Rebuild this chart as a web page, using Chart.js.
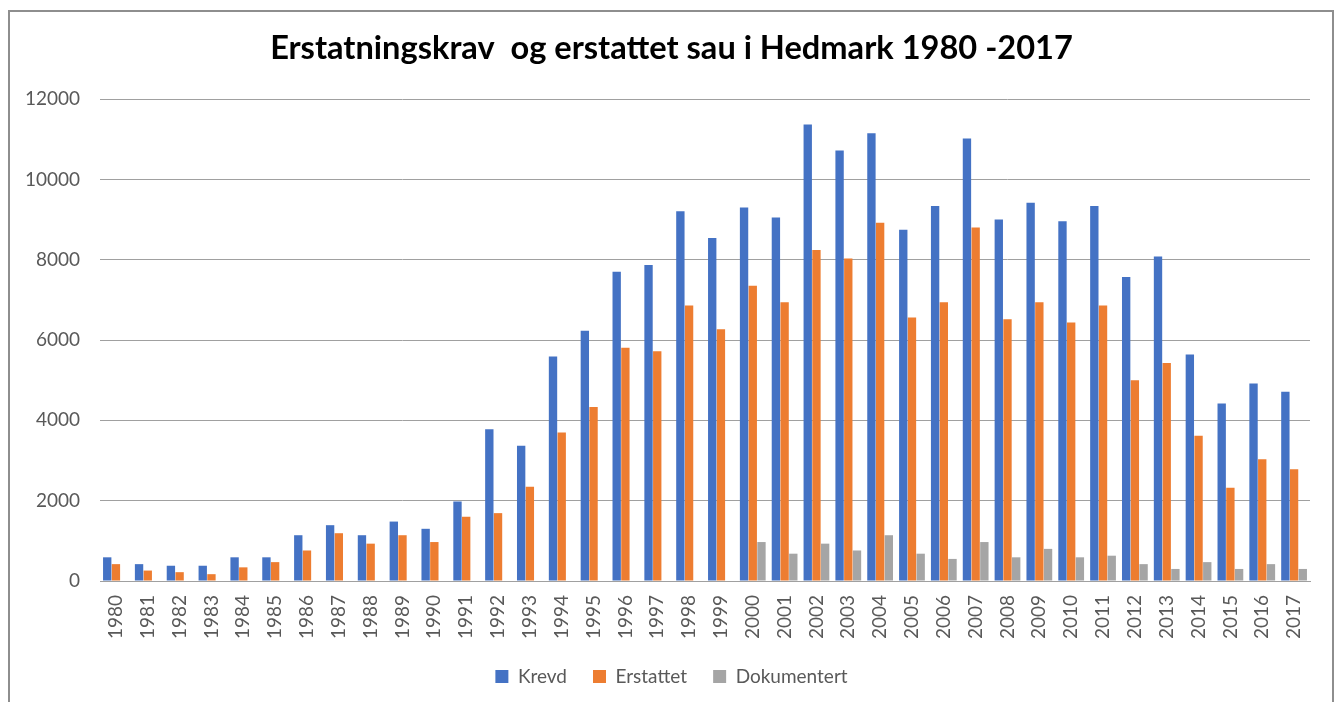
<!DOCTYPE html>
<html>
<head>
<meta charset="utf-8">
<title>Erstatningskrav og erstattet sau i Hedmark</title>
<script src="https://cdn.jsdelivr.net/npm/chart.js@4/dist/chart.umd.min.js"></script>
<style>
    html, body { margin: 0; padding: 0; background: #fff; }
    #wrap { position: relative; width: 1343px; height: 702px; overflow: hidden; }
    #frame {
        position: absolute; left: 8px; top: 10px; width: 1322px; height: 720px;
        border: 2px solid #8e8e8e;
    }
    #chart { position: absolute; left: 0; top: 0; }
</style>
</head>
<body>
<div id="wrap">
    <div id="frame"></div>
    <canvas id="chart" width="1343" height="702"></canvas>
</div>
<script>
var years = [
    "1980", "1981", "1982", "1983", "1984", "1985", "1986", "1987", "1988", "1989",
    "1990", "1991", "1992", "1993", "1994", "1995", "1996", "1997", "1998", "1999",
    "2000", "2001", "2002", "2003", "2004", "2005", "2006", "2007", "2008", "2009",
    "2010", "2011", "2012", "2013", "2014", "2015", "2016", "2017"
];
var krevd = [
    590, 420, 380, 380, 590, 590, 1140, 1390, 1140, 1480,
    1300, 1980, 3780, 3370, 5590, 6230, 7700, 7870, 9210, 8540,
    9300, 9050, 11370, 10720, 11150, 8750, 9340, 11020, 9000, 9420,
    8960, 9340, 7570, 8080, 5640, 4420, 4920, 4710
];
var erstattet = [
    420, 260, 220, 170, 340, 470, 760, 1190, 930, 1140,
    970, 1600, 1690, 2350, 3700, 4330, 5810, 5720, 6860, 6270,
    7350, 6940, 8240, 8030, 8920, 6560, 6940, 8800, 6520, 6940,
    6440, 6860, 5000, 5430, 3620, 2320, 3030, 2780
];
var dokumentert = [
    null, null, null, null, null, null, null, null, null, null,
    null, null, null, null, null, null, null, null, null, null,
    970, 680, 930, 760, 1140, 680, 550, 970, 590, 800,
    590, 630, 420, 300, 470, 300, 420, 300
];
var yTicks = [0, 2000, 4000, 6000, 8000, 10000, 12000];

(function() {
    var font = "Lato, 'Open Sans', sans-serif";
    var tickColor = '#595959';
    var gridColor = '#a0a0a0';

    var series = [
        { label: 'Krevd', data: krevd, color: '#4472C4' },
        { label: 'Erstattet', data: erstattet, color: '#ED7D31' },
        { label: 'Dokumentert', data: dokumentert, color: '#A5A5A5' }
    ];

    var datasets = series.map(function(s) {
        return {
            label: s.label,
            data: s.data,
            backgroundColor: s.color,
            borderWidth: 0,
            categoryPercentage: 0.82,
            barPercentage: 0.96
        };
    });

    new Chart(document.getElementById('chart'), {
        type: 'bar',
        data: { labels: years, datasets: datasets },
        options: {
            responsive: false,
            animation: false,
            layout: { padding: { left: 0, right: 0, top: 0, bottom: 6 } },
            plugins: {
                tooltip: { enabled: false },
                title: {
                    display: true,
                    text: 'Erstatningskrav  og erstattet sau i Hedmark 1980 -2017',
                    color: '#000',
                    font: { family: font, size: 32.6, weight: 'bold' },
                    padding: { top: 29, bottom: 31 }
                },
                legend: {
                    position: 'bottom',
                    labels: {
                        color: tickColor,
                        font: { family: font, size: 19 },
                        boxWidth: 13,
                        boxHeight: 13,
                        padding: 26
                    }
                }
            },
            scales: {
                x: {
                    grid: { display: false, drawTicks: false },
                    border: { display: true, color: gridColor, width: 1 },
                    ticks: {
                        color: tickColor,
                        font: { family: font, size: 19 },
                        maxRotation: 90,
                        minRotation: 90,
                        autoSkip: false,
                        padding: 14
                    },
                    afterFit: function(scale) { scale.height = 60; }
                },
                y: {
                    min: 0,
                    max: 12000,
                    afterBuildTicks: function(scale) {
                        scale.ticks = yTicks.map(function(v) { return { value: v }; });
                    },
                    grid: { color: gridColor, lineWidth: 1, drawTicks: false },
                    border: { display: false },
                    ticks: {
                        color: tickColor,
                        font: { family: font, size: 19 },
                        padding: 20,
                        callback: function(v) { return String(v); }
                    },
                    afterFit: function(scale) { scale.width = 100; }
                },
                // empty right-hand axis, only there to keep the right margin
                spacer: {
                    type: 'linear',
                    position: 'right',
                    display: true,
                    grid: { display: false, drawTicks: false },
                    border: { display: false },
                    ticks: { display: false },
                    afterFit: function(scale) { scale.width = 33; }
                }
            }
        }
    });
})();
</script>
</body>
</html>
